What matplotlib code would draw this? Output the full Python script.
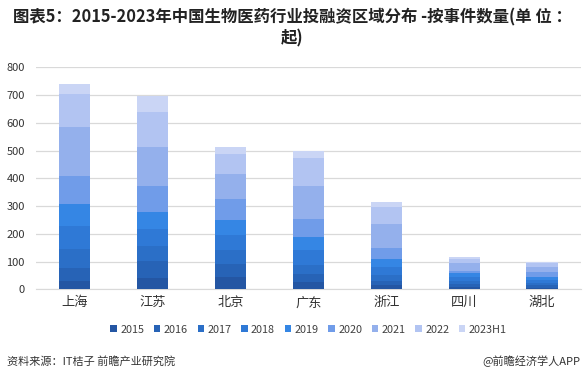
import numpy as np
import matplotlib.pyplot as plt

plt.rcParams['font.family'] = ['Noto Sans CJK SC', 'DejaVu Sans']

regions = ['上海', '江苏', '北京', '广东', '浙江', '四川', '湖北']
years = ['2015', '2016', '2017', '2018', '2019', '2020', '2021', '2022', '2023H1']

# 各年事件数量 (按地区)
v2015 = [31, 42, 44, 26, 14, 8, 6]
v2016 = [44, 60, 46, 29, 17, 10, 8]
v2017 = [70, 54, 52, 33, 21, 12, 10]
v2018 = [84, 61, 54, 54, 27, 14, 10]
v2019 = [78, 62, 54, 46, 30, 14, 11]
v2020 = [101, 93, 75, 65, 40, 9, 16]
v2021 = [177, 141, 90, 119, 86, 28, 18]
v2022 = [118, 127, 73, 101, 62, 13, 14]
v2023h1 = [37, 58, 25, 24, 18, 7, 4]
series = [v2015, v2016, v2017, v2018, v2019, v2020, v2021, v2022, v2023h1]

colors = ['#2456a3', '#2763b6', '#2b6fc7', '#2f79d6', '#3586e4',
          '#709ce9', '#94b0ec', '#b2c4f2', '#cad5f5']

fig = plt.figure(figsize=(5.85, 3.83), dpi=100)
ax = fig.add_axes([36 / 585, 1 - 289.3 / 383, 545 / 585, 222 / 383])

x = np.arange(len(regions))
bottom = np.zeros(len(regions))
for name, vals, c in zip(years, series, colors):
    ax.bar(x, vals, 0.4, bottom=bottom, color=c, label=name, zorder=3)
    bottom += np.array(vals)

ax.set_ylim(0, 800)
ax.set_xlim(-0.5, len(regions) - 0.5)
ax.set_yticks(range(0, 801, 100))
ax.set_xticks(x)
ax.set_xticklabels(regions, fontsize=9.5, color='#333333')
ax.tick_params(axis='y', labelsize=8, colors='#333333', length=0, pad=8)
ax.tick_params(axis='x', length=0, pad=5)
ax.grid(axis='y', color='#d9d9d9', lw=0.9, zorder=0)
for s in ['top', 'right', 'left']:
    ax.spines[s].set_visible(False)
ax.spines['bottom'].set_color('#d9d9d9')

ax.legend(loc='upper center', bbox_to_anchor=(0.5, -0.115), ncol=9, frameon=False,
          fontsize=7.8, handlelength=0.6, handleheight=0.6, handletextpad=0.3,
          columnspacing=0.9, labelcolor='#404040')

fig.text(0.5, 1 - 17 / 383, '图表5：2015-2023年中国生物医药行业投融资区域分布 -按事件数量(单 位 ：',
         ha='center', va='center', fontsize=11.8, fontweight='bold', color='#222222')
fig.text(0.5, 1 - 38 / 383, '起)', ha='center', va='center', fontsize=11.8,
         fontweight='bold', color='#222222')
fig.text(7 / 585, 1 - 361 / 383, '资料来源：IT桔子 前瞻产业研究院', ha='left', va='center',
         fontsize=8, color='#333333')
fig.text(580 / 585, 1 - 361 / 383, '@前瞻经济学人APP', ha='right', va='center',
         fontsize=8, color='#333333')

fig.savefig('out.png', dpi=100)
